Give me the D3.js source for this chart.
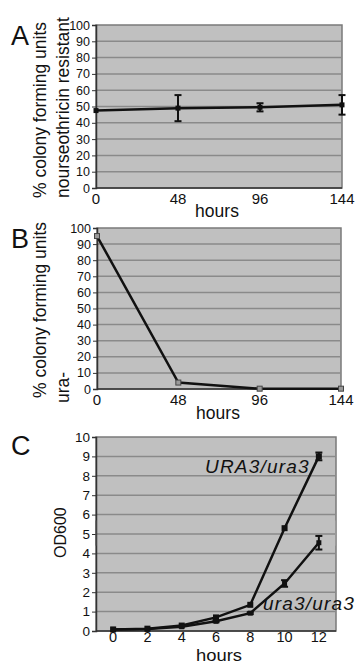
<!DOCTYPE html>
<html>
<head>
<meta charset="utf-8">
<script src="https://cdnjs.cloudflare.com/ajax/libs/d3/7.8.5/d3.min.js"></script>
<style>
  body { margin: 0; background: #fff; }
  text { font-family: "Liberation Sans", Arial, sans-serif; fill: #111; }
</style>
</head>
<body>
<script>
// panel A: nourseothricin resistant cfu
const hoursAB = [0, 48, 96, 144];
const valuesA = [47.5, 49, 49.5, 51];
const errorsA = [0, 8, 2.5, 6];

// panel B: ura- cfu
const valuesB = [95, 4, 0.2, 0.2];

// panel C: growth curves
const hoursC = ["0", "2", "4", "6", "8", "10", "12"];
const od_URA3 = [0.08, 0.12, 0.28, 0.7, 1.35, 5.3, 9.0];
const err_URA3 = [0, 0, 0, 0, 0, 0, 0.2];
const od_ura3 = [0.08, 0.1, 0.22, 0.5, 0.92, 2.45, 4.55];
const err_ura3 = [0, 0, 0, 0.05, 0.05, 0.17, 0.35];

const yTicksPct = d3.range(0, 101, 10);
const yTicksOD = d3.range(0, 11, 1);

const width = 358, height = 665;
const svg = d3.select("body").append("svg")
  .attr("width", width).attr("height", height);

const BG = "#c0c0c0", GRID = "#8a8a8a", BORDER = "#7a7a7a";

function frame(g, x0, x1, y, ticks, tickFont) {
  const [yb, yt] = y.range();
  g.append("rect")
    .attr("x", x0).attr("y", yt)
    .attr("width", x1 - x0).attr("height", yb - yt)
    .attr("fill", BG).attr("stroke", BORDER).attr("stroke-width", 1.5);
  g.append("g").selectAll("line")
    .data(ticks.slice(1, -1))
    .join("line")
    .attr("x1", x0).attr("x2", x1)
    .attr("y1", d => y(d)).attr("y2", d => y(d))
    .attr("stroke", GRID).attr("stroke-width", 1.5);
  const ax = g.append("g")
    .attr("transform", `translate(${x0},0)`)
    .call(d3.axisLeft(y).tickValues(ticks).tickSize(4).tickPadding(2));
  ax.select(".domain").attr("stroke", "#333").attr("stroke-width", 1.5);
  ax.selectAll(".tick line").attr("stroke", "#333");
  ax.selectAll("text").style("font-size", tickFont).attr("fill", "#111");
  g.append("line")
    .attr("x1", x0).attr("x2", x1)
    .attr("y1", yb).attr("y2", yb)
    .attr("stroke", "#333").attr("stroke-width", 1.5);
}

function yLabel(g, lines, x, ys, size) {
  lines.forEach((t, i) => {
    g.append("text")
      .attr("transform", `translate(${x[i]},${ys[i]}) rotate(-90)`)
      .attr("text-anchor", "start")
      .style("font-size", size)
      .text(t);
  });
}

function errBars(g, pts, cap) {
  const eb = g.append("g").attr("stroke", "#111").attr("stroke-width", 2);
  pts.filter(p => p.e > 0).forEach(p => {
    eb.append("line").attr("x1", p.x).attr("x2", p.x).attr("y1", p.lo).attr("y2", p.hi);
    eb.append("line").attr("x1", p.x - cap).attr("x2", p.x + cap).attr("y1", p.lo).attr("y2", p.lo);
    eb.append("line").attr("x1", p.x - cap).attr("x2", p.x + cap).attr("y1", p.hi).attr("y2", p.hi);
  });
}

// ---------- A ----------
{
  const g = svg.append("g");
  const x = d3.scaleLinear().domain([0, 144]).range([96, 342]);
  const y = d3.scaleLinear().domain([0, 100]).range([188, 25]);
  frame(g, 96, 342, y, yTicksPct, "12.5px");

  g.append("g").selectAll("text")
    .data(hoursAB).join("text")
    .attr("x", d => x(d)).attr("y", 204)
    .attr("text-anchor", "middle").style("font-size", "15px")
    .text(d => d);
  g.append("text").attr("x", 217).attr("y", 217)
    .attr("text-anchor", "middle").style("font-size", "17.5px").text("hours");

  const line = d3.line().x((d, i) => x(hoursAB[i])).y(d => y(d));
  g.append("path").datum(valuesA).attr("d", line)
    .attr("fill", "none").attr("stroke", "#111").attr("stroke-width", 2.5);
  errBars(g, valuesA.map((v, i) => ({
    x: x(hoursAB[i]), e: errorsA[i], lo: y(v - errorsA[i]), hi: y(v + errorsA[i])
  })), 3.5);
  g.append("g").selectAll("rect").data(valuesA).join("rect")
    .attr("x", (d, i) => x(hoursAB[i]) - 2.5).attr("y", d => y(d) - 2.5)
    .attr("width", 5).attr("height", 5).attr("fill", "#111");

  yLabel(g, ["% colony forming units", "nourseothricin resistant"], [46, 69], [198, 198], "17.5px");
  g.append("text").attr("x", 11).attr("y", 45).style("font-size", "27px").text("A");
}

// ---------- B ----------
{
  const g = svg.append("g");
  const x = d3.scaleLinear().domain([0, 144]).range([97, 341]);
  const y = d3.scaleLinear().domain([0, 100]).range([389, 228]);
  frame(g, 97, 341, y, yTicksPct, "12.5px");

  g.append("g").selectAll("text")
    .data(hoursAB).join("text")
    .attr("x", d => x(d)).attr("y", 405)
    .attr("text-anchor", "middle").style("font-size", "15px")
    .text(d => d);
  g.append("text").attr("x", 218).attr("y", 419)
    .attr("text-anchor", "middle").style("font-size", "17.5px").text("hours");

  const line = d3.line().x((d, i) => x(hoursAB[i])).y(d => y(d));
  g.append("path").datum(valuesB).attr("d", line)
    .attr("fill", "none").attr("stroke", "#111").attr("stroke-width", 2.5);
  g.append("g").selectAll("rect").data(valuesB).join("rect")
    .attr("x", (d, i) => x(hoursAB[i]) - 2.5).attr("y", d => y(d) - 2.5)
    .attr("width", 5).attr("height", 5)
    .attr("fill", "#999").attr("stroke", "#444").attr("stroke-width", 1);

  yLabel(g, ["% colony forming units", "ura-"], [46, 69], [398, 403], "17.5px");
  g.append("text").attr("x", 11).attr("y", 248).style("font-size", "27px").text("B");
}

// ---------- C ----------
{
  const g = svg.append("g");
  const x = d3.scalePoint().domain(hoursC).range([96, 336]).padding(0.5);
  const y = d3.scaleLinear().domain([0, 10]).range([631, 437]);
  frame(g, 96, 336, y, yTicksOD, "13.5px");

  // faint bracket marks beside the plot
  g.append("line").attr("x1", 96).attr("x2", 96)
    .attr("y1", y(5.7)).attr("y2", y(4.4)).attr("stroke", "#555").attr("stroke-width", 1);
  g.append("line").attr("x1", 336).attr("x2", 336)
    .attr("y1", y(5.7)).attr("y2", y(4.4)).attr("stroke", "#999").attr("stroke-width", 2);

  g.append("g").selectAll("text")
    .data(hoursC).join("text")
    .attr("x", d => x(d)).attr("y", 642)
    .attr("text-anchor", "middle").style("font-size", "14.5px")
    .text(d => d);
  g.append("text").attr("x", 219).attr("y", 661)
    .attr("text-anchor", "middle").style("font-size", "16px")
    .attr("textLength", 46).attr("lengthAdjust", "spacingAndGlyphs")
    .text("hours");

  const line = d3.line().x((d, i) => x(hoursC[i])).y(d => y(d));
  [[od_URA3, err_URA3], [od_ura3, err_ura3]].forEach(([vals, errs], k) => {
    g.append("path").datum(vals).attr("d", line)
      .attr("fill", "none").attr("stroke", "#111").attr("stroke-width", 2.5);
    errBars(g, vals.map((v, i) => ({
      x: x(hoursC[i]), e: errs[i], lo: y(v - errs[i]), hi: y(v + errs[i])
    })), 3.5);
    const s = k === 0 ? 6 : 5;
    g.append("g").selectAll("rect").data(vals).join("rect")
      .attr("x", (d, i) => x(hoursC[i]) - s / 2).attr("y", d => y(d) - s / 2)
      .attr("width", s).attr("height", s).attr("fill", "#111");
  });

  g.append("text").attr("x", 205).attr("y", 473)
    .style("font-size", "19px").style("font-style", "italic")
    .style("letter-spacing", "1.2px").attr("fill", "#222").text("URA3/ura3");
  g.append("text").attr("x", 263).attr("y", 610)
    .style("font-size", "19px").style("font-style", "italic")
    .style("letter-spacing", "1.2px").attr("fill", "#222").text("ura3/ura3");

  yLabel(g, ["OD600"], [66], [558], "16px");
  g.append("text").attr("x", 11).attr("y", 455).style("font-size", "27px").text("C");
}
</script>
</body>
</html>
